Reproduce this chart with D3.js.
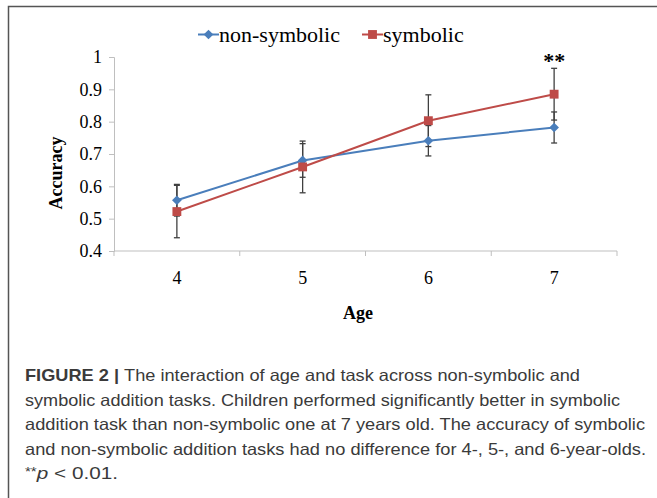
<!DOCTYPE html>
<html>
<head>
<meta charset="utf-8">
<script src="https://d3js.org/d3.v7.min.js"></script>
<style>
    body { margin: 0; background: #fff; }
    svg text { font-family: "Liberation Serif", "Times New Roman", serif; }
    .caption text { font-family: "Liberation Sans", Arial, sans-serif; fill: #3a3a3a; }
</style>
</head>
<body>
<div id="chart"></div>
<script>
// data
const ages = ["4", "5", "6", "7"];
const nonSymbolic = [0.557, 0.680, 0.741, 0.782];
const nonSymbolicErr = [0.049, 0.052, 0.047, 0.048];
const symbolic = [0.522, 0.660, 0.803, 0.885];
const symbolicErr = [0.081, 0.080, 0.080, 0.080];
const yTicks = [0.4, 0.5, 0.6, 0.7, 0.8, 0.9, 1];
const captionLines = [
    "The interaction of age and task across non-symbolic and",
    "symbolic addition tasks. Children performed significantly better in symbolic",
    "addition task than non-symbolic one at 7 years old. The accuracy of symbolic",
    "and non-symbolic addition tasks had no difference for 4-, 5-, and 6-year-olds.",
    "p < 0.01."
];

const W = 657, H = 498;
const plot = {left: 114, right: 617, top: 57, bottom: 251};

const svg = d3.select("#chart").append("svg")
    .attr("width", W).attr("height", H);

// outer frame
svg.append("rect")
    .attr("x", 8.5).attr("y", 6.5)
    .attr("width", W + 10).attr("height", H + 10)
    .attr("fill", "none").attr("stroke", "#555").attr("stroke-width", 1.5);

const x = d3.scaleBand().domain(ages).range([plot.left, plot.right]);
const y = d3.scaleLinear().domain([0.4, 1]).range([plot.bottom, plot.top]);

// y axis
const yAxis = svg.append("g")
    .attr("transform", `translate(${plot.left},0)`)
    .call(d3.axisLeft(y).tickValues(yTicks).tickSize(5).tickPadding(7)
        .tickFormat(d => d === 1 ? "1" : d3.format(".1f")(d)));
yAxis.select(".domain").attr("stroke", "#bfbfbf");
yAxis.selectAll(".tick line").attr("stroke", "#bfbfbf");
yAxis.selectAll(".tick text").attr("font-size", 18).attr("fill", "#000")
    .attr("font-family", "Liberation Serif");

// x axis with ticks on category boundaries
const xAxis = svg.append("g")
    .attr("transform", `translate(0,${plot.bottom})`)
    .call(d3.axisBottom(x).tickSize(0).tickPadding(20));
xAxis.select(".domain").remove();
xAxis.selectAll(".tick text").attr("font-size", 18).attr("fill", "#000")
    .attr("font-family", "Liberation Serif");
svg.append("line")
    .attr("x1", plot.left).attr("x2", plot.right)
    .attr("y1", plot.bottom).attr("y2", plot.bottom)
    .attr("stroke", "#bfbfbf");
const bounds = ages.map(a => x(a)).concat([x(ages[ages.length - 1]) + x.bandwidth()]);
svg.selectAll(".xtick").data(bounds).join("line")
    .attr("x1", d => d).attr("x2", d => d)
    .attr("y1", plot.bottom).attr("y2", plot.bottom + 5)
    .attr("stroke", "#bfbfbf");

// axis titles
svg.append("text")
    .attr("transform", "translate(62,173) rotate(-90)")
    .attr("text-anchor", "middle")
    .attr("font-size", 18).attr("font-weight", "bold")
    .text("Accuracy");
svg.append("text")
    .attr("x", 358).attr("y", 319)
    .attr("text-anchor", "middle")
    .attr("font-size", 18).attr("font-weight", "bold")
    .text("Age");

const cx = a => x(a) + x.bandwidth() / 2;
const series = [
    {name: "non-symbolic", values: nonSymbolic, err: nonSymbolicErr, color: "#4a7ebb", shape: "diamond"},
    {name: "symbolic", values: symbolic, err: symbolicErr, color: "#be4b48", shape: "square"}
];

const line = d3.line().x((d, i) => cx(ages[i])).y(d => y(d));

series.forEach(s => {
    svg.append("path")
        .attr("d", line(s.values))
        .attr("fill", "none").attr("stroke", s.color).attr("stroke-width", 2);
});

// error bars
series.forEach(s => {
    const g = svg.append("g").attr("stroke", "#404040").attr("stroke-width", 1.3);
    s.values.forEach((v, i) => {
        const px = cx(ages[i]);
        const lo = y(v - s.err[i]), hi = y(v + s.err[i]);
        g.append("line").attr("x1", px).attr("x2", px).attr("y1", lo).attr("y2", hi);
        g.append("line").attr("x1", px - 3).attr("x2", px + 3).attr("y1", lo).attr("y2", lo);
        g.append("line").attr("x1", px - 3).attr("x2", px + 3).attr("y1", hi).attr("y2", hi);
    });
});

const symbolFor = shape => shape === "diamond"
    ? d3.symbol().type(d3.symbolDiamond2).size(60)
    : d3.symbol().type(d3.symbolSquare2).size(100);

series.forEach(s => {
    svg.selectAll(null).data(s.values).join("path")
        .attr("transform", (d, i) => `translate(${cx(ages[i])},${y(d)})`)
        .attr("d", symbolFor(s.shape)())
        .attr("fill", s.color);
});

// significance mark
svg.append("text")
    .attr("x", cx("7")).attr("y", 68)
    .attr("text-anchor", "middle")
    .attr("font-size", 22).attr("font-weight", "bold")
    .text("**");

// legend
const legendPos = [198, 362];
series.forEach((s, i) => {
    const lx = legendPos[i];
    svg.append("line")
        .attr("x1", lx).attr("x2", lx + 21)
        .attr("y1", 34.5).attr("y2", 34.5)
        .attr("stroke", s.color).attr("stroke-width", 2);
    svg.append("path")
        .attr("transform", `translate(${lx + 10.5},34.5)`)
        .attr("d", symbolFor(s.shape)())
        .attr("fill", s.color);
    svg.append("text")
        .attr("x", lx + 21).attr("y", 42)
        .attr("font-size", 22)
        .text(s.name);
});

// caption
const cap = svg.append("g").attr("class", "caption");
const capWidths = [555, 595, 620, 621, 93];
const first = cap.append("text").attr("x", 25).attr("y", 381).attr("font-size", 16.5)
    .attr("textLength", capWidths[0]).attr("lengthAdjust", "spacingAndGlyphs");
first.append("tspan").attr("font-weight", "bold").text("FIGURE 2 | ");
first.append("tspan").text(captionLines[0]);
captionLines.slice(1).forEach((t, i) => {
    const txt = cap.append("text")
        .attr("x", 25).attr("y", 381 + (i + 1) * 24.5)
        .attr("font-size", 16.5)
        .attr("textLength", capWidths[i + 1]).attr("lengthAdjust", "spacingAndGlyphs");
    if (i === 3) {
        txt.append("tspan").attr("font-size", 12).attr("dy", -3).text("**");
        txt.append("tspan").attr("font-style", "italic").attr("dy", 3).text("p");
        txt.append("tspan").text(" < 0.01.");
    } else {
        txt.text(t);
    }
});
</script>
</body>
</html>
